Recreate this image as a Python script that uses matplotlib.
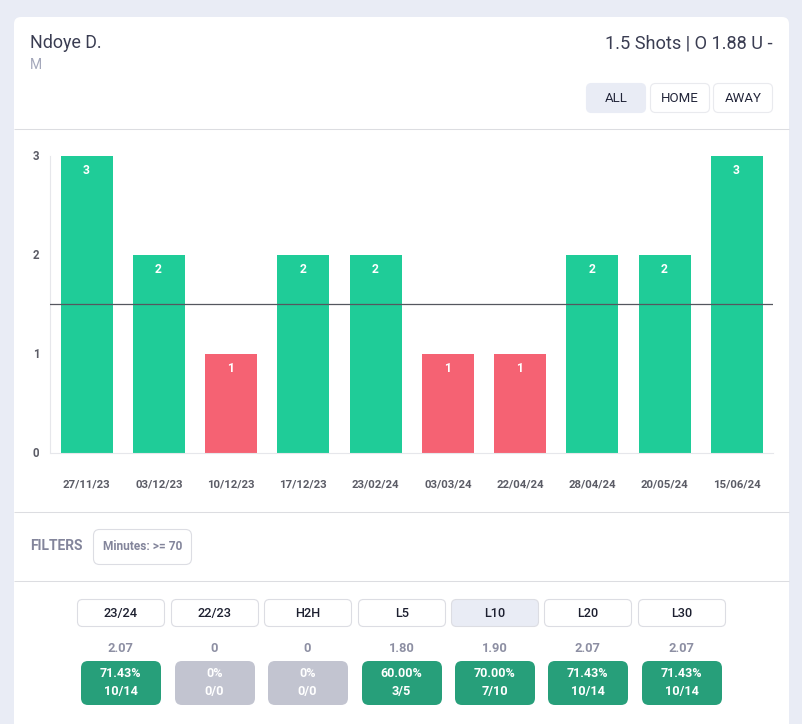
import matplotlib
matplotlib.use("Agg")
import matplotlib.pyplot as plt
from matplotlib.patches import FancyBboxPatch
from matplotlib.transforms import ScaledTranslation

plt.rcParams['font.family'] = ['Roboto', 'DejaVu Sans']

dates = ["27/11/23", "03/12/23", "10/12/23", "17/12/23", "23/02/24",
         "03/03/24", "22/04/24", "28/04/24", "20/05/24", "15/06/24"]
shots = [3, 2, 1, 2, 2, 1, 1, 2, 2, 3]
line_value = 1.5
tabs = ["23/24", "22/23", "H2H", "L5", "L10", "L20", "L30"]
averages = ["2.07", "0", "0", "1.80", "1.90", "2.07", "2.07"]
percents = ["71.43%", "0%", "0%", "60.00%", "70.00%", "71.43%", "71.43%"]
ratios = ["10/14", "0/0", "0/0", "3/5", "7/10", "10/14", "10/14"]

W, H = 803, 724
GREEN, RED = "#1fcc98", "#f56273"
BG = "#e9ecf5"
BORDER = "#dcdde3"

fig = plt.figure(figsize=(W / 100, H / 100), dpi=100, facecolor=BG)
ui = fig.add_axes([0, 0, 1, 1], zorder=1)
ui.set_xlim(0, W)
ui.set_ylim(H, 0)
ui.axis("off")


def box(x0, y0, x1, y1, r, fc, ec="none", lw=1.0, z=2):
    ui.add_patch(FancyBboxPatch((x0 + r, y0 + r), x1 - x0 - 2 * r, y1 - y0 - 2 * r,
                                boxstyle=f"round,pad={r},rounding_size={r}",
                                fc=fc, ec=ec, lw=lw, zorder=z))


def hline(y):
    ui.plot([14, 789], [y, y], color="#dcdde1", lw=0.75, zorder=3, solid_capstyle="butt")


def label(x, y, s, size, color, weight="normal", ha="center"):
    ui.text(x, y, s, fontsize=size, color=color, fontweight=weight, ha=ha, va="center", zorder=5)


# card
box(14, 17, 789, 760, 7, "white")
hline(129.4)
hline(512.4)
hline(581.4)

# header
label(30, 43.5, "Ndoye D.", 12.9, "#3a3d52", ha="left")
label(30, 65.2, "M", 10, "#a4a8bb", ha="left")
label(773, 43.5, "1.5 Shots | O 1.88 U -", 13.1, "#3a3d52", ha="right")

for (x0, x1, s, active) in [(586, 646, "ALL", True), (650, 710, "HOME", False), (713, 773, "AWAY", False)]:
    box(x0 + .5, 83.5, x1 - .5, 112.5, 5, BG if active else "white", BG if active else "#e9eaee", lw=0.8)
    label((x0 + x1) / 2, 98, s, 9.5, "#23263a")

# filters
label(30, 546.5, "FILTERS", 9.9, "#83859b", "bold", ha="left")
box(93.5, 529.5, 191.5, 564.5, 6, "white", BORDER, lw=0.8)
label(142.5, 547, "Minutes: >= 70", 8.6, "#83859b", "bold")

# summary columns
tab_x = [121, 215, 308, 402, 495, 588, 682]
for i, x in enumerate(tab_x):
    active = tabs[i] == "L10"
    if active:
        box(x - 44, 631, x + 44, 708, 5, BG, z=1.5)
    box(x - 43.5, 599.5, x + 43.5, 626.5, 5, BG if active else "white", BORDER, lw=0.8)
    label(x, 613.5, tabs[i], 9.2, "#1d2030", "medium")
    label(x - 0.5, 648, averages[i], 9.3, "#8d8fa3", "bold")
    empty = ratios[i] == "0/0"
    box(x - 40, 661, x + 40, 705, 7, "#c2c4d0" if empty else "#279f7a")
    label(x - 0.5, 673.8, percents[i], 9, "white", "bold")
    label(x - 0.5, 691.8, ratios[i], 9.2, "white", "bold")

# chart
L, R, T, B = 50.5, 773, 155.6, 452.8
ax = fig.add_axes([L / W, 1 - B / H, (R - L) / W, (B - T) / H], zorder=2)
ax.patch.set_alpha(0)
positions = range(len(shots))
colors = [GREEN if v > line_value else RED for v in shots]
bars = ax.bar(positions, shots, width=0.72, color=colors, zorder=2)
ax.axhline(line_value, color="#55575f", lw=0.9, zorder=3)
ax.set_xlim(-0.5, len(shots) - 0.5)
ax.set_ylim(0, 3)
ax.set_yticks([0, 1, 2, 3])
ax.set_xticks(list(positions), dates)
ax.tick_params(axis="both", length=0)
ax.tick_params(axis="x", pad=19, labelsize=8.2, labelcolor="#5b5c66")
ax.tick_params(axis="y", pad=8, labelsize=8.3, labelcolor="#5b5c66")
for t in ax.get_xticklabels() + ax.get_yticklabels():
    t.set_fontweight("bold")
up = ScaledTranslation(0, 1 / 100, fig.dpi_scale_trans)
for t in ax.get_yticklabels():
    t.set_transform(t.get_transform() + up)
for s in ("top", "right"):
    ax.spines[s].set_visible(False)
for s in ("left", "bottom"):
    ax.spines[s].set_color("#e6e7eb")
    ax.spines[s].set_linewidth(0.8)
for b, v in zip(bars, shots):
    ax.annotate(str(v), (b.get_x() + b.get_width() / 2 - 0.005, v), xytext=(0, -14.6),
                textcoords="offset pixels",
                ha="center", va="center", color="white", fontsize=8.7, fontweight="bold", zorder=4)

fig.savefig("out.png", dpi=100, facecolor=BG)
